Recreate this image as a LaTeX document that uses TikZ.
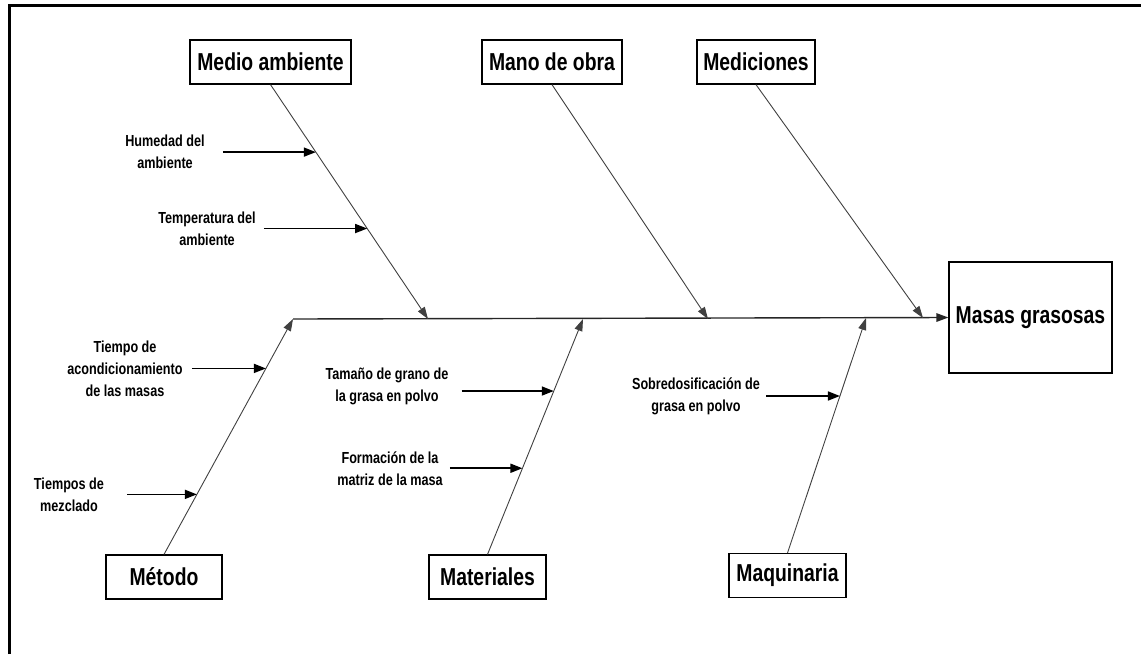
\documentclass[tikz,border=0pt]{standalone}
\usepackage{fontspec}
\setmainfont{Liberation Sans}[FakeStretch=0.79]
\usetikzlibrary{arrows.meta,positioning,calc}

\begin{document}
\begin{tikzpicture}[
  x=1pt, y=-1pt,
  cat/.style={draw, line width=1.2pt, inner sep=0pt, minimum height=44pt, minimum width=#1,
              font=\fontsize{24.5}{27}\selectfont\bfseries},
  effect/.style={draw, line width=1.2pt, inner sep=0pt, minimum width=163pt, minimum height=111pt,
              font=\fontsize{24.5}{27}\selectfont\bfseries},
  cause/.style={font=\fontsize{16}{22}\selectfont\bfseries, align=center, inner sep=0pt},
  bone/.style={-{Triangle[length=12pt,width=8pt]}, line width=0.9pt, draw=black!75},
  spine/.style={-{Triangle[length=12pt,width=8.5pt]}, line width=1.4pt, draw=black!85},
  sub/.style={-{Triangle[length=12pt,width=9pt]}, line width=1.6pt},
]
\useasboundingbox (0,0) rectangle (1141,654);

% ------------------------------------------------------------ frame
\draw[line width=3pt] (9.5,654) -- (9.5,5) -- (1141,5);

% ------------------------------------------------------------ effect and spine
\node[effect] (masas) at (1030.5,317.5) {Masas grasosas};
\coordinate (spine-l) at (293,319);
\draw[spine] (spine-l) -- (masas.west);

% ------------------------------------------------------------ categories
\node[cat=161pt] (medio)  at (270.5,62) {Medio ambiente};
\node[cat=140pt] (mano)   at (552,62)   {Mano de obra};
\node[cat=118pt] (medic)  at (756,62)   {Mediciones};
\node[cat=116pt] (metodo) at (164,577)  {Método};
\node[cat=117pt] (mater)  at (487.5,577) {Materiales};
\node[cat=117pt] (maqui)  at (787.5,575.5) {Maquinaria};

\coordinate (medio-j) at (428,319);
\coordinate (mano-j)  at (708,319);
\coordinate (medic-j) at (923,318);
\coordinate (mater-j) at (583,319);
\coordinate (maqui-j) at (866,318);

\draw[bone] (medio.south) -- (medio-j)
  coordinate[pos=0.288] (hum-e) coordinate[pos=0.614] (temp-e);
\draw[bone] (mano.south) -- (mano-j);
\draw[bone] (medic.south) -- (medic-j);
\draw[bone] (metodo.north) -- (spine-l)
  coordinate[pos=0.79] (acond-e) coordinate[pos=0.255] (mezcl-e);
\draw[bone] (mater.north) -- (mater-j)
  coordinate[pos=0.694] (tam-e) coordinate[pos=0.366] (form-e);
\draw[bone] (maqui.north) -- (maqui-j)
  coordinate[pos=0.668] (sobre-e);

% ------------------------------------------------------------ causes
\node[cause] (hum)   at (165,152) {Humedad del\\ambiente};
\node[cause] (temp)  at (207,229) {Temperatura del\\ambiente};
\node[cause] (acond) at (125,369) {Tiempo de\\acondicionamiento\\de las masas};
\node[cause] (mezcl) at (69,495)  {Tiempos de\\mezclado};
\node[cause] (tam)   at (387,386) {Tamaño de grano de\\la grasa en polvo};
\node[cause] (form)  at (390,469) {Formación de la\\matriz de la masa};
\node[cause] (sobre) at (696,396) {Sobredosificación de\\grasa en polvo};

\draw[sub] ([xshift=18pt]hum.east |- hum-e) -- (hum-e);
\draw[sub] ([xshift=8pt]temp.east |- temp-e) -- (temp-e);
\draw[sub] ([xshift=9pt]acond.east |- acond-e) -- (acond-e);
\draw[sub] ([xshift=23pt]mezcl.east |- mezcl-e) -- (mezcl-e);
\draw[sub] ([xshift=13pt]tam.east |- tam-e) -- (tam-e);
\draw[sub] ([xshift=7pt]form.east |- form-e) -- (form-e);
\draw[sub] ([xshift=6pt]sobre.east |- sobre-e) -- (sobre-e);
\end{tikzpicture}
\end{document}
